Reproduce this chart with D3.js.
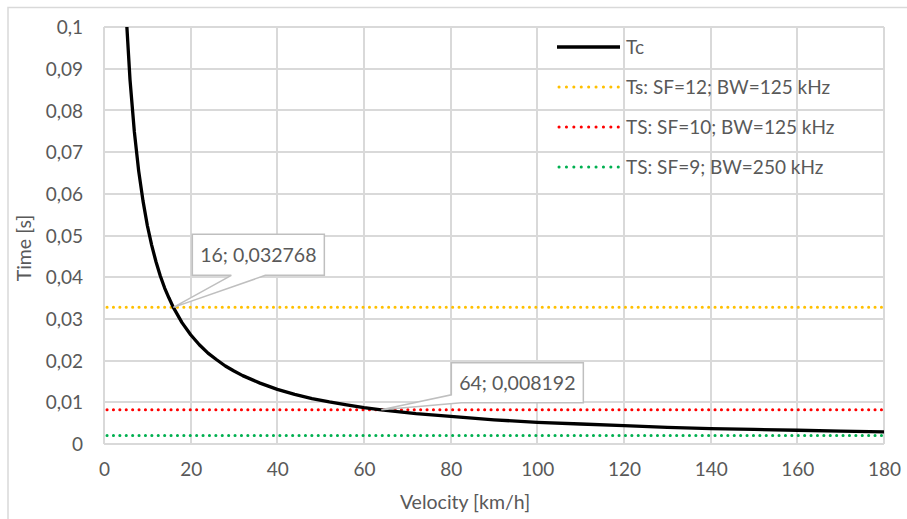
<!DOCTYPE html>
<meta charset="utf-8">
<style>
body{
	margin:0;
	background:#fff;
}
text{
	font-family:Lato, "Open Sans", sans-serif;
	fill:#595959;
}
.tick text{
	font-size:19px;
}
.grid line{
	stroke:#d9d9d9;
	stroke-width:1.5px;
	shape-rendering:crispEdges;
}
.legend text{
	font-size:19px;
}
.callout text{
	font-size:19.5px;
	text-anchor:middle;
}
</style>
<body>
<script src="https://d3js.org/d3.v7.min.js"></script>
<script>

// Tc curve
var velocity=[5,6,7,8,9,10,11,12,13,14,15,16,18,20,22,24,26,28,30,32,36,40,44,48,52,56,60,64,72,80,90,100,110,120,130,140,150,160,170,180];
var tc=[0.1049,0.0874,0.0749,0.0655,0.0583,0.0524,0.0477,0.0437,0.0403,0.0374,0.0350,0.032768,0.0291,0.0262,0.0238,0.0218,0.0202,0.0187,0.0175,0.0164,0.0146,0.0131,0.0119,0.0109,0.0101,0.0094,0.0087,0.008192,0.0073,0.0066,0.0058,0.0052,0.0048,0.0044,0.0040,0.0037,0.0035,0.0033,0.0031,0.0029];

// symbol times (constant lines)
var tsNames=["Ts: SF=12; BW=125 kHz","TS: SF=10; BW=125 kHz","TS: SF=9; BW=250 kHz"];
var tsValues=[0.032768,0.008192,0.002048];
var tsColors=["#ffc000","#ff0000","#00b050"];

// data labels
var labelX=[16,64];
var labelY=[0.032768,0.008192];
var labelText=["16; 0,032768","64; 0,008192"];

var xTicks=[0,20,40,60,80,100,120,140,160,180];
var yTicks=[0,0.01,0.02,0.03,0.04,0.05,0.06,0.07,0.08,0.09,0.1];

var W=907,H=519;
var pLeft=104,pRight=884,pTop=27,pBottom=444;

var svg=d3.select("body").append("svg").attr("width",W).attr("height",H);

// chart area border
svg.append("path")
	.attr("d","M8,"+H+"V7.5H"+W)
	.attr("fill","none")
	.attr("stroke","#d9d9d9")
	.attr("stroke-width",1.5);

var x=d3.scaleLinear().domain([0,180]).range([pLeft,pRight]);
var y=d3.scaleLinear().domain([0,0.1]).range([pBottom,pTop]);

var comma=function(d){ return d===0?"0":String(+d.toFixed(2)).replace(".",","); };

// gridlines
var grid=svg.append("g").attr("class","grid");
grid.selectAll(".h").data(yTicks).enter().append("line")
	.attr("x1",pLeft).attr("x2",pRight)
	.attr("y1",d=>Math.round(y(d))).attr("y2",d=>Math.round(y(d)));
grid.selectAll(".v").data(xTicks).enter().append("line")
	.attr("y1",pTop).attr("y2",pBottom)
	.attr("x1",d=>Math.round(x(d))).attr("x2",d=>Math.round(x(d)));

// axes (labels only)
var yAxis=svg.append("g").attr("transform","translate("+pLeft+",0)")
	.call(d3.axisLeft(y).tickValues(yTicks).tickFormat(comma).tickSize(0).tickPadding(21));
yAxis.select(".domain").remove();
yAxis.selectAll("text").attr("dy","0.35em");

var xAxis=svg.append("g").attr("transform","translate(0,"+pBottom+")")
	.call(d3.axisBottom(x).tickValues(xTicks).tickFormat(d3.format("d")).tickSize(0).tickPadding(19));
xAxis.select(".domain").remove();

// axis titles
svg.append("text")
	.attr("x",465).attr("y",509)
	.attr("text-anchor","middle")
	.style("font-size","19.5px")
	.text("Velocity [km/h]");
svg.append("text")
	.attr("transform","translate(31,248) rotate(-90)")
	.attr("text-anchor","middle")
	.style("font-size","19.5px")
	.text("Time [s]");

svg.append("clipPath").attr("id","clip")
	.append("rect").attr("x",pLeft).attr("y",pTop).attr("width",pRight-pLeft).attr("height",pBottom-pTop);

// constant lines
svg.selectAll(".ts").data(tsValues).enter().append("line")
	.attr("x1",x(0)+3).attr("x2",x(180))
	.attr("y1",d=>y(d)).attr("y2",d=>y(d))
	.attr("stroke",(d,i)=>tsColors[i])
	.attr("stroke-width",3)
	.attr("stroke-linecap","round")
	.attr("stroke-dasharray","0.1 6.3");

// Tc curve
var line=d3.line().x(d=>x(d[0])).y(d=>y(d[1]));
svg.append("path")
	.datum(d3.zip(velocity,tc))
	.attr("clip-path","url(#clip)")
	.attr("d",line)
	.attr("fill","none")
	.attr("stroke","#000")
	.attr("stroke-width",3.3)
	.attr("stroke-linejoin","round");

// callouts
var boxes=[{dx:19,dy:-73,w:132,h:41,b1:39,b2:73},{dx:70,dy:-47,w:132,h:40,b1:0,b2:10}];
labelX.forEach(function(v,i){
	var px=x(v),py=y(labelY[i]),b=boxes[i];
	var bx=px+b.dx,by=py+b.dy,bb=by+b.h;
	var g=svg.append("g").attr("class","callout");
	var d="M"+bx+","+by+"H"+(bx+b.w)+"V"+bb+"H"+(bx+b.b2)+"L"+px+","+py+"L"+(bx+b.b1)+","+(b.b1===0?bb-8:bb)+(b.b1===0?"Z":"H"+bx+"Z");
	g.append("path")
		.attr("d",d)
		.attr("fill","#fff")
		.attr("stroke","#bfbfbf")
		.attr("stroke-width",1.5)
		.attr("stroke-linejoin","miter");
	g.append("text")
		.attr("x",bx+b.w/2).attr("y",by+b.h/2)
		.attr("dy","0.36em")
		.text(labelText[i]);
});

// legend
var legend=svg.append("g").attr("class","legend");
var names=["Tc"].concat(tsNames);
names.forEach(function(n,i){
	var ly=47+i*40;
	var ln=legend.append("line")
		.attr("x1",557).attr("x2",620)
		.attr("y1",ly).attr("y2",ly);
	if(i===0){
		ln.attr("stroke","#000").attr("stroke-width",3.3);
	}else{
		ln.attr("x1",559).attr("stroke",tsColors[i-1]).attr("stroke-width",3)
			.attr("stroke-linecap","round").attr("stroke-dasharray","0.1 7.3");
	}
	legend.append("text")
		.attr("x",626).attr("y",ly)
		.attr("dy","0.36em")
		.text(n);
});

</script>
</body>
</html>
